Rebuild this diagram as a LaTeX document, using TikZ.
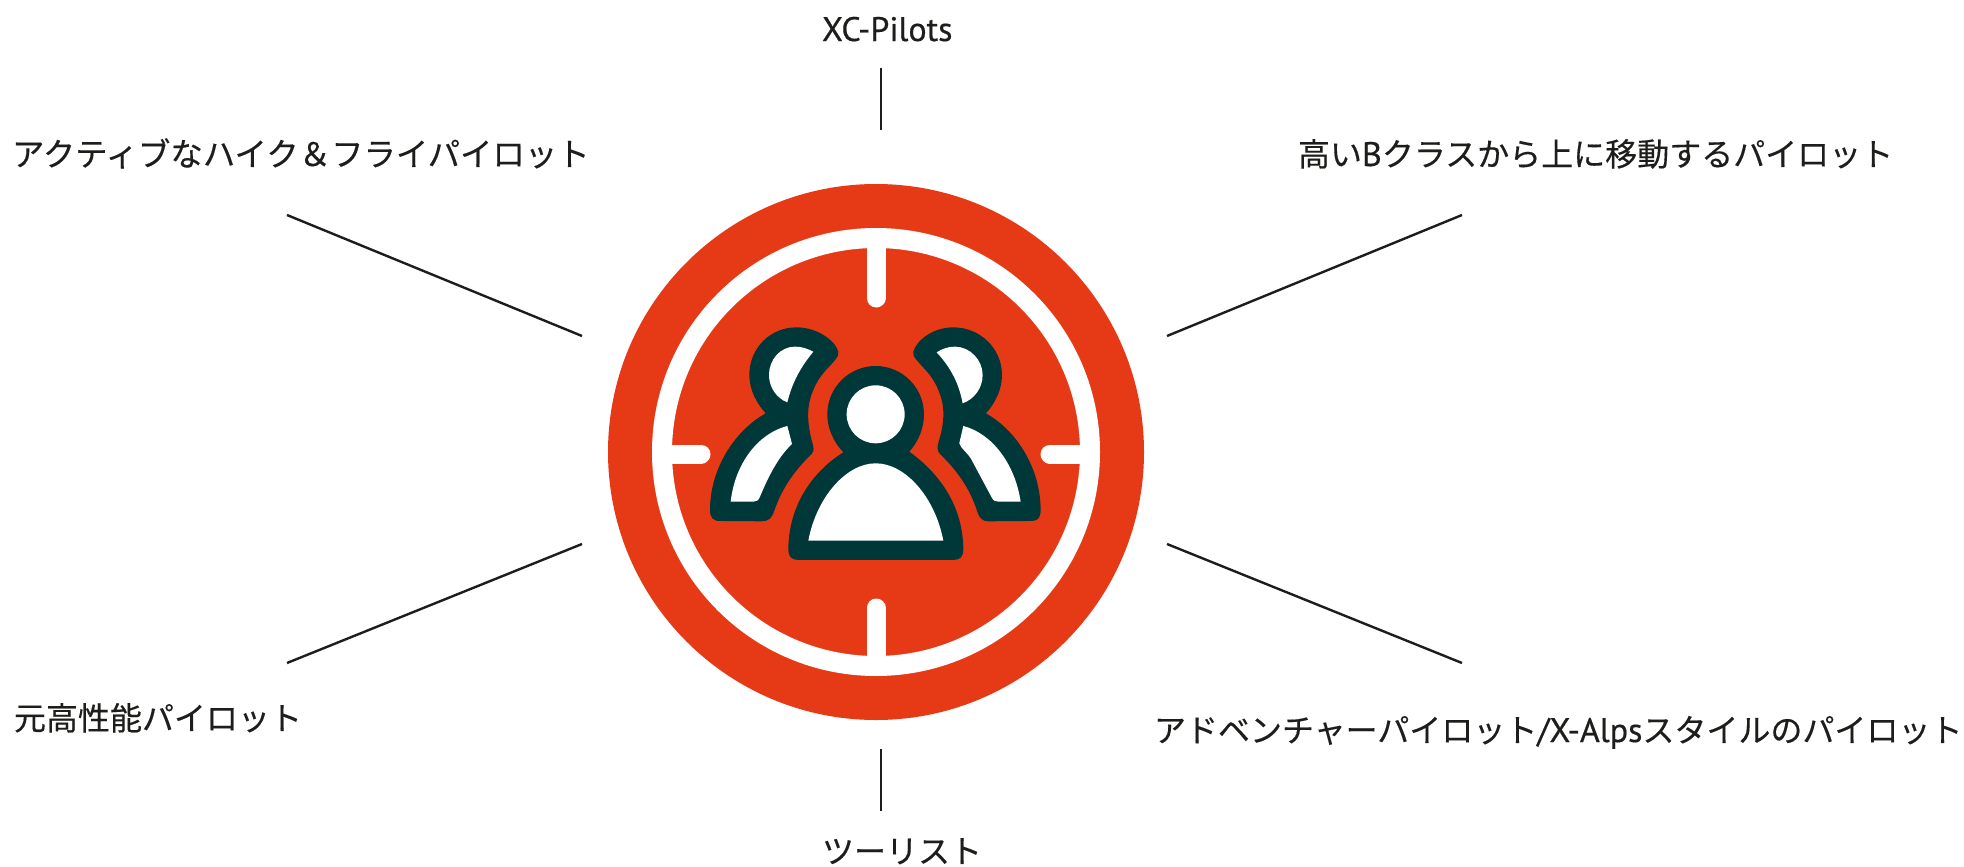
\documentclass[tikz,border=0pt]{standalone}
\usepackage{fontspec}
\setmainfont{Noto Sans CJK JP}[RawFeature={embolden=0.35}]
\newfontfamily\latinfont{PT Sans}[RawFeature={embolden=0.5}]
\definecolor{disc}{HTML}{E63A17}
\definecolor{ink}{HTML}{003738}
\definecolor{txt}{HTML}{1D1D1B}
\tikzset{
  lbl/.style={inner sep=0pt,outer sep=0pt,text=txt,font=\fontsize{32bp}{38bp}\selectfont,anchor=base west},
  conn/.style={draw=txt,line width=2.4bp},
  tick/.style={draw=white,line width=19bp,line cap=round},
  dark/.style={fill=ink},
  hole/.style={fill=white}
}
\newcommand{\lat}[1]{{\latinfont\fontsize{34bp}{38bp}\selectfont #1}}
\begin{document}
\begin{tikzpicture}[x=1bp,y=-1bp]
\useasboundingbox (0,0) rectangle (1964,867);
% disc
\fill[disc] (876,452) circle[radius=268];
\draw[white,line width=20bp] (876,452) circle[radius=214];
\coordinate (ringT) at (876,240);
\coordinate (ringB) at (876,664);
\coordinate (ringL) at (662,454);
\coordinate (ringR) at (1090,454);
\draw[tick] (ringT) -- (876,298);
\draw[tick] (ringB) -- (876,608);
\draw[tick] (ringL) -- (701,454);
\draw[tick] (ringR) -- (1050,454);
% icon (coordinates in 3x crop units)
\begin{scope}[shift={(700,300)},x=0.3333bp,y=-0.3333bp]
% left person
\path[dark] (415,155) .. controls (405,120) and (350,82) .. (290,82)
  .. controls (210,82) and (148,145) .. (148,225)
  .. controls (148,270) and (170,310) .. (197,340)
  .. controls (100,395) and (30,510) .. (30,630)
  .. controls (30,652) and (38,663) .. (60,663)
  -- (185,664) .. controls (205,664) and (215,655) .. (222,635)
  .. controls (245,565) and (285,510) .. (335,462)
  .. controls (345,450) and (340,440) .. (336,425)
  .. controls (322,370) and (318,320) .. (340,270)
  .. controls (358,225) and (385,205) .. (405,180)
  .. controls (413,170) and (417,165) .. (415,155) -- cycle;
\path[hole] (340,155) .. controls (320,145) and (305,140) .. (285,140)
  .. controls (240,140) and (207,180) .. (207,225)
  .. controls (207,262) and (230,295) .. (262,307)
  .. controls (275,255) and (295,210) .. (340,155) -- cycle;
\path[hole] (262,378) -- (276,432)
  .. controls (235,470) and (205,530) .. (180,590)
  .. controls (175,602) and (170,605) .. (160,605)
  -- (92,605) .. controls (105,490) and (175,400) .. (262,378) -- cycle;
% right person
\path[dark] (640,155) .. controls (650,120) and (700,82) .. (760,82)
  .. controls (840,82) and (906,145) .. (906,225)
  .. controls (906,270) and (885,310) .. (858,340)
  .. controls (955,395) and (1022,510) .. (1022,630)
  .. controls (1022,652) and (1015,663) .. (995,663)
  -- (865,664) .. controls (848,664) and (838,655) .. (832,635)
  .. controls (810,565) and (770,510) .. (720,462)
  .. controls (710,450) and (712,440) .. (716,425)
  .. controls (733,370) and (737,320) .. (715,270)
  .. controls (697,225) and (670,205) .. (650,180)
  .. controls (642,170) and (638,165) .. (640,155) -- cycle;
\path[hole] (710,157) .. controls (728,146) and (745,140) .. (765,140)
  .. controls (810,140) and (848,180) .. (848,225)
  .. controls (848,265) and (822,298) .. (788,310)
  .. controls (778,255) and (755,205) .. (710,157) -- cycle;
\path[hole] (790,378) -- (778,430)
  .. controls (782,445) and (805,460) .. (815,480)
  -- (875,592) .. controls (880,602) and (885,605) .. (895,605)
  -- (962,605) .. controls (945,490) and (875,400) .. (790,378) -- cycle;
% centre person
\path[dark] (430,457) .. controls (400,425) and (382,385) .. (382,343)
  .. controls (382,263) and (447,198) .. (527,198)
  .. controls (607,198) and (672,263) .. (672,343)
  .. controls (672,385) and (655,425) .. (628,455)
  .. controls (725,525) and (790,625) .. (790,750)
  .. controls (790,770) and (780,780) .. (760,780)
  -- (295,780) .. controls (275,780) and (265,770) .. (265,750)
  .. controls (265,625) and (330,520) .. (430,457) -- cycle;
\fill[white] (527,343) circle[radius=87];
\path[hole] (325,722) .. controls (350,590) and (440,490) .. (527,490)
  .. controls (615,490) and (705,590) .. (730,722) -- cycle;
\end{scope}
% connectors
\coordinate (tA) at (881,68);   \coordinate (tB) at (881,130);
\coordinate (bA) at (881,749);  \coordinate (bB) at (881,811);
\coordinate (ulA) at (287,215); \coordinate (ulB) at (582,336);
\coordinate (urA) at (1462,215);\coordinate (urB) at (1167,336);
\coordinate (llA) at (287,663); \coordinate (llB) at (582,544);
\coordinate (lrA) at (1462,663);\coordinate (lrB) at (1167,544);
\draw[conn] (tA) -- (tB);
\draw[conn] (bA) -- (bB);
\draw[conn] (ulA) -- (ulB);
\draw[conn] (urA) -- (urB);
\draw[conn] (llA) -- (llB);
\draw[conn] (lrA) -- (lrB);
% labels
\node[lbl] (top) at (822,41) {\lat{XC-Pilots}};
\node[lbl,font=\fontsize{32.4bp}{38bp}\selectfont] (ul) at (12,166) {アクティブなハイク＆フライパイロット};
\node[lbl] (ur) at (1298,166) {高い\lat{B}クラスから上に移動するパイロット};
\node[lbl] (ll) at (14,730) {元高性能パイロット};
\node[lbl] (lr) at (1154,742) {アドベンチャーパイロット\lat{/X-Alps}スタイルのパイロット};
\node[lbl] (bot) at (822,863) {ツーリスト};
\end{tikzpicture}
\end{document}
